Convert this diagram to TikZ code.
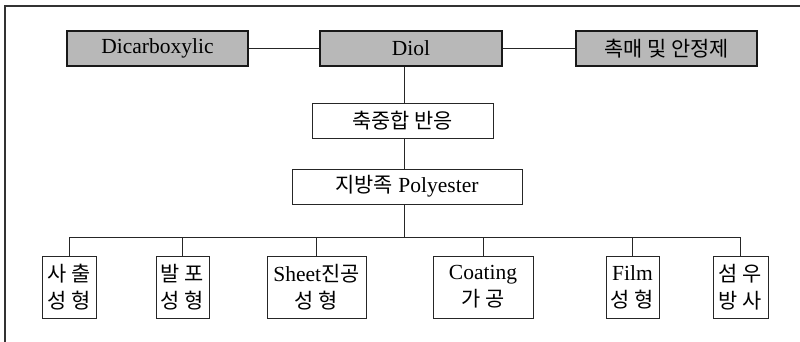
\documentclass[tikz,border=0pt]{standalone}
\usepackage{fontspec}
\setmainfont{Liberation Serif}
\newfontfamily\kr[Scale=0.97]{Noto Sans CJK KR}
\begin{document}
\begin{tikzpicture}[x=1pt,y=-1pt,
  every node/.style={inner sep=0pt, font=\fontsize{21.5}{27}\selectfont},
  plainbox/.style={draw=black!85, line width=0.8pt, fill=white, align=center},
  shadebox/.style={draw=black!90, line width=1.3pt, fill=black!28, minimum width=181, minimum height=35},
  childbox/.style={plainbox, minimum height=62},
  link/.style={draw=black!85, line width=0.8pt},
  frame/.style={draw=black!80, line width=1.4pt}]
\useasboundingbox (0,0) rectangle (800,342);
\coordinate (fr) at (5,6);
\coordinate (frr) at (800,6);
\coordinate (frb) at (5,342);
\draw[frame] (frb) -- (fr) -- (frr);

\node[shadebox] (dic) at (157.5,48.5) {Dicarboxylic};
\node[shadebox, minimum width=182] (diol) at (411,48.5) {Diol};
\node[shadebox] (cat) at (666.5,48.5) {\kr 촉매 및 안정제};
\node[plainbox, minimum width=181, minimum height=35] (rxn) at (402.5,120.5) {\kr 축중합 반응};
\node[plainbox, minimum width=230, minimum height=35] (poly) at (407,186.5) {{\kr 지방족} Polyester};

\node[childbox, minimum width=54] (c1) at (69,287) {\kr 사 출\\\kr 성 형};
\node[childbox, minimum width=53] (c2) at (182.5,287) {\kr 발 포\\\kr 성 형};
\node[childbox, minimum width=99] (c3) at (316.5,287) {Sheet{\kr 진공}\\\kr 성 형};
\node[childbox, minimum width=100] (c4) at (483,287) {Coating\\\kr 가 공};
\node[childbox, minimum width=53] (c5) at (632.5,287) {Film\\\kr 성 형};
\node[childbox, minimum width=55] (c6) at (740.5,287) {\kr 섬 우\\\kr 방 사};

\coordinate (t) at (404,0);
\coordinate (bus) at (404,237);

\draw[link] (dic.east) -- (diol.west);
\draw[link] (diol.east) -- (cat.west);
\draw[link] (diol.south -| t) -- (rxn.north -| t);
\draw[link] (rxn.south -| t) -- (poly.north -| t);
\draw[link] (poly.south -| t) -- (bus);
\draw[link] (c1.north |- bus) -- (c6.north |- bus);
\foreach \c in {c1,c2,c3,c4,c5,c6}
  \draw[link] (\c.north |- bus) -- (\c.north);
\end{tikzpicture}
\end{document}
